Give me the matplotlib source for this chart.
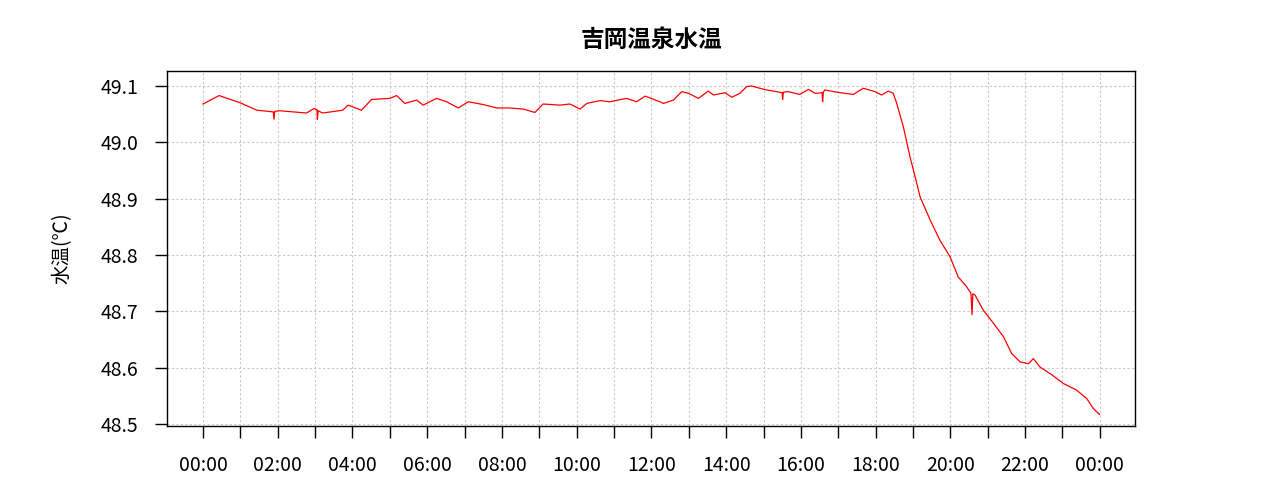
import matplotlib
matplotlib.use('Agg')
import matplotlib.pyplot as plt
import numpy as np

plt.rcParams['font.family'] = ['Noto Sans CJK JP', 'DejaVu Sans']

title = '吉岡温泉水温'
ylabel = '水温(℃)'

# hours since 00:00 and water temperature
hours = [0.00, 0.43, 1.00, 1.44, 1.88, 1.90, 1.92, 2.06, 2.77, 2.97, 3.05, 3.06, 3.08,
         3.20, 3.74, 3.88, 4.24, 4.51, 5.00, 5.18, 5.40, 5.72, 5.89, 6.25, 6.52,
         6.83, 7.10, 7.50, 7.86, 8.20, 8.57, 8.88, 9.10, 9.55, 9.82, 10.09, 10.27,
         10.62, 10.89, 11.33, 11.60, 11.83, 12.23, 12.32, 12.59, 12.81, 12.99,
         13.26, 13.52, 13.66, 13.97, 14.15, 14.37, 14.55, 14.68, 14.90, 15.08,
         15.35, 15.50, 15.51, 15.53, 15.66, 15.97, 16.20, 16.38, 16.57, 16.58,
         16.60, 16.64, 16.96, 17.40, 17.67, 17.98, 18.16, 18.34, 18.47, 18.56,
         18.74, 18.92, 19.01, 19.19, 19.46, 19.72, 19.99, 20.21, 20.43, 20.55,
         20.58, 20.60, 20.66, 20.88, 21.15, 21.42, 21.64, 21.87, 22.09, 22.22,
         22.40, 22.72, 23.02, 23.38, 23.65, 23.83, 23.99]
temps = [49.068, 49.083, 49.070, 49.057, 49.054, 49.041, 49.055, 49.056, 49.052, 49.060,
         49.058, 49.041, 49.056, 49.052, 49.057, 49.066, 49.057, 49.076, 49.078,
         49.083, 49.069, 49.075, 49.066, 49.078, 49.072, 49.061, 49.072, 49.067,
         49.061, 49.061, 49.059, 49.053, 49.068, 49.066, 49.068, 49.059, 49.069,
         49.074, 49.072, 49.078, 49.072, 49.082, 49.072, 49.069, 49.075, 49.090,
         49.087, 49.078, 49.091, 49.084, 49.088, 49.080, 49.087, 49.099, 49.100,
         49.096, 49.093, 49.090, 49.088, 49.076, 49.089, 49.090, 49.085, 49.094,
         49.087, 49.088, 49.072, 49.089, 49.093, 49.089, 49.085, 49.096, 49.090,
         49.084, 49.091, 49.087, 49.070, 49.028, 48.974, 48.951, 48.903, 48.862,
         48.826, 48.797, 48.761, 48.744, 48.732, 48.694, 48.731, 48.729, 48.702,
         48.679, 48.655, 48.625, 48.610, 48.607, 48.616, 48.601, 48.587, 48.572,
         48.560, 48.545, 48.527, 48.517]

tick_hours = list(range(0, 25))
tick_labels = ['%02d:00' % (h % 24) if h % 2 == 0 else '' for h in tick_hours]
yticks = [48.5, 48.6, 48.7, 48.8, 48.9, 49.0, 49.1]

fig = plt.figure(figsize=(12.8, 5), dpi=100)
ax = fig.add_axes([0.1305, 0.148, 0.7562, 0.710])

ax.plot(hours, temps, color='red', linewidth=0.9)

ax.set_xlim(-0.963, 24.94)
ax.set_ylim(48.4964, 49.1266)
ax.set_xticks(tick_hours)
ax.set_xticklabels(tick_labels)
ax.set_yticks(yticks)
ax.set_yticklabels(['%.1f' % v for v in yticks])

ax.grid(True, color='#c8c8c8', linestyle=(0, (2, 2)), linewidth=0.8)
ax.tick_params(direction='out', length=8.6, width=1, labelsize=14, pad=12, colors='black')
for s in ax.spines.values():
    s.set_linewidth(1)
    s.set_color('black')

ax.set_title(title, fontsize=17, fontweight='bold', pad=17)
ax.set_ylabel(ylabel, fontsize=14, labelpad=20)

fig.savefig('out.png', dpi=100)
plt.close()
